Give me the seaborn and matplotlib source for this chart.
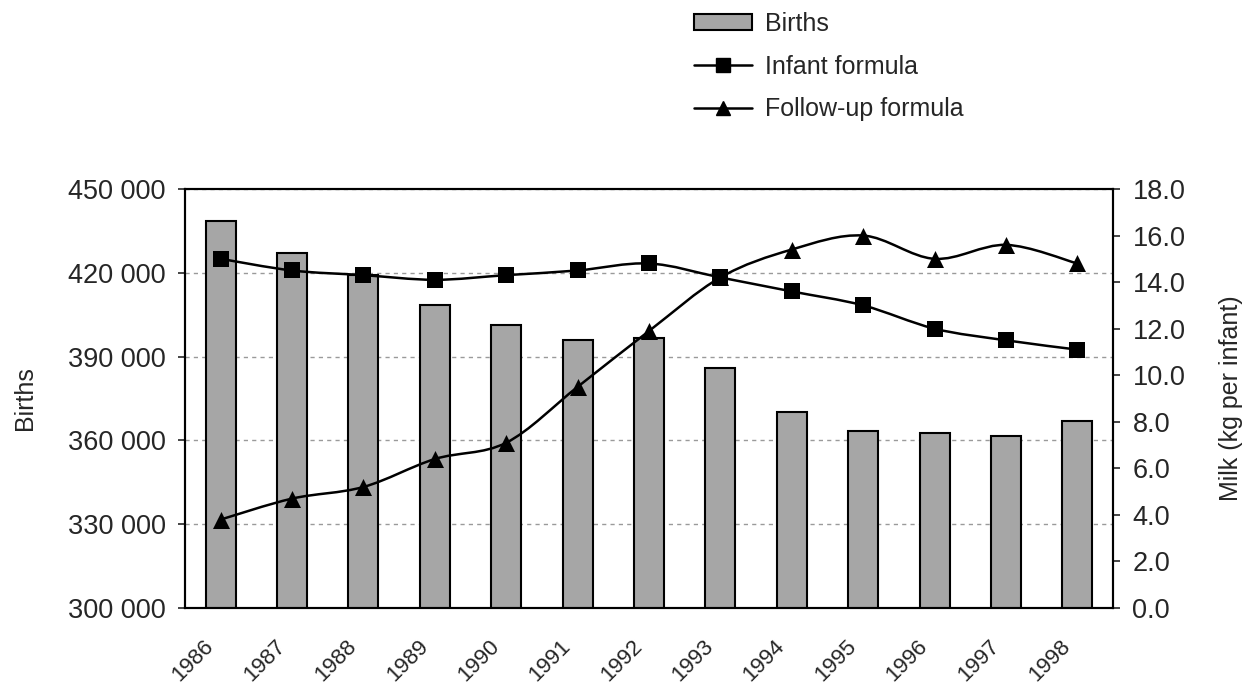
import numpy as np
import seaborn as sns
import matplotlib.pyplot as plt
from matplotlib.path import Path
from matplotlib.patches import PathPatch, Patch
from matplotlib.lines import Line2D
from matplotlib.ticker import FuncFormatter, FixedLocator
from matplotlib.transforms import ScaledTranslation

# Data
years = ['1986', '1987', '1988', '1989', '1990', '1991', '1992',
         '1993', '1994', '1995', '1996', '1997', '1998']
births = [438700, 427000, 419200, 408500, 401300, 395900, 396800,
          385800, 370100, 363500, 362500, 361700, 367100]
infant_formula = [15.0, 14.5, 14.3, 14.1, 14.3, 14.5, 14.8,
                  14.2, 13.6, 13.0, 12.0, 11.5, 11.1]
followup_formula = [3.8, 4.7, 5.2, 6.4, 7.1, 9.5, 11.9,
                    14.2, 15.4, 16.0, 15.0, 15.6, 14.8]
births_ticks = [300000, 330000, 360000, 390000, 420000, 450000]
milk_ticks = [0, 2, 4, 6, 8, 10, 12, 14, 16, 18]

sns.set_style('white')
plt.rcParams['font.family'] = ['Liberation Sans', 'DejaVu Sans']

bar_color = '#a6a6a6'


def smooth_path(xs, ys):
    # Excel-like smoothed line: cubic bezier through every point
    pts = np.column_stack([xs, ys]).astype(float)
    n = len(pts)
    verts = [pts[0]]
    codes = [Path.MOVETO]
    for i in range(n - 1):
        p0 = pts[max(i - 1, 0)]
        p1 = pts[i]
        p2 = pts[i + 1]
        p3 = pts[min(i + 2, n - 1)]
        verts += [p1 + (p2 - p0) / 6, p2 - (p3 - p1) / 6, p2]
        codes += [Path.CURVE4] * 3
    return Path(verts, codes)


fig = plt.figure(figsize=(12.46, 6.85), dpi=100)
ax = fig.add_axes([185 / 1246, 1 - 608 / 685, 928 / 1246, 419 / 685])

# Births bars
sns.barplot(x=years, y=births, ax=ax, color=bar_color, saturation=1,
            edgecolor='black', linewidth=1.5, width=0.42, zorder=2)
ax.set_ylim(300000, 450000)
ax.set_xlim(-0.5, len(years) - 0.5)
ax.yaxis.set_major_locator(FixedLocator(births_ticks))
ax.yaxis.set_major_formatter(FuncFormatter(lambda v, p: f'{int(v):,}'.replace(',', ' ')))
ax.yaxis.grid(True, linestyle=(0, (3, 3)), color='#9a9a9a', linewidth=1)
ax.set_axisbelow(True)

ax.set_xticks(range(len(years)))
ax.set_xticks(np.arange(len(years) + 1) - 0.5, minor=True)
ax.tick_params(axis='x', which='major', length=0, pad=25)
ax.tick_params(axis='x', which='minor', length=4, width=1, direction='out')
ax.tick_params(axis='y', length=5, width=1.2, direction='out', pad=9,
               labelsize=19.5, left=True)
ax.set_xticklabels(years, rotation=45, ha='right', va='center',
                   rotation_mode='anchor', fontsize=16)
ax.set_xlabel('')
ax.set_ylabel('Births', fontsize=18)
ax.yaxis.label.set(ha='center', va='center')
ax.yaxis.set_label_coords(-0.172, 0.5)

for s in ax.spines.values():
    s.set_color('black')
    s.set_linewidth(1.5)

# Milk per infant on the secondary axis
ax2 = ax.twinx()
xpos = np.arange(len(years))
for vals, mk, sz in [(infant_formula, 's', 125), (followup_formula, '^', 150)]:
    ax2.add_patch(PathPatch(smooth_path(xpos, vals), fill=False,
                            edgecolor='black', linewidth=1.8, zorder=3))
    sns.scatterplot(x=xpos, y=vals, ax=ax2, marker=mk, color='black',
                    s=sz, linewidth=0, zorder=4)
ax2.set_ylim(0, 18)
ax2.yaxis.set_major_locator(FixedLocator(milk_ticks))
ax2.yaxis.set_major_formatter(FuncFormatter(lambda v, p: f'{v:.1f}'))
ax2.tick_params(axis='y', length=5, width=1.2, direction='out', pad=9,
                labelsize=19.5, right=True)
ax2.set_xlabel('')
ax2.set_ylabel('Milk (kg per infant)', fontsize=18, rotation=90)
ax2.yaxis.label.set(ha='center', va='center')
ax2.yaxis.set_label_coords(1.1275, 0.5)
for s in ax2.spines.values():
    s.set_color('black')
    s.set_linewidth(1.5)

# nudge the slanted year labels left, as in the original
shift = ScaledTranslation(-10 / 100, 0, fig.dpi_scale_trans)
for lab in ax.get_xticklabels():
    lab.set_transform(lab.get_transform() + shift)

handles = [
    Patch(facecolor=bar_color, edgecolor='black', linewidth=1.5, label='Births'),
    Line2D([], [], color='black', lw=1.8, marker='s', markersize=10, label='Infant formula'),
    Line2D([], [], color='black', lw=1.8, marker='^', markersize=10, label='Follow-up formula'),
]
fig.legend(handles=handles, loc='upper left', bbox_to_anchor=(694 / 1246, 1 - 12 / 685),
           frameon=False, fontsize=18, handlelength=2.3, handleheight=0.6,
           handletextpad=0.55, labelspacing=0.74, borderpad=0, borderaxespad=0)

fig.savefig('out.png', dpi=100)
